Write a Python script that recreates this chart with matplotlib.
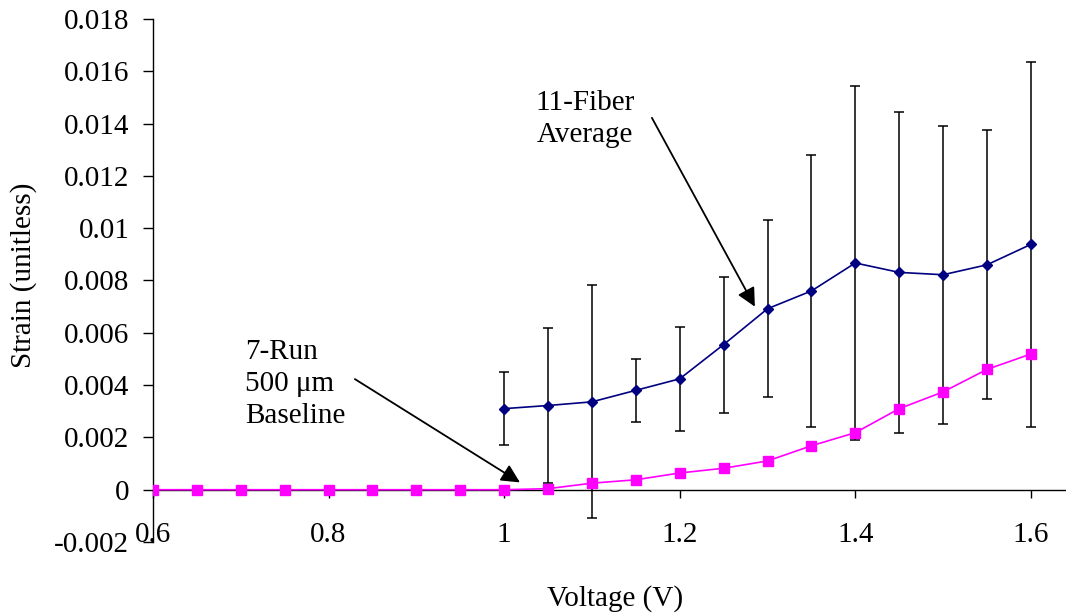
import numpy as np
import matplotlib
matplotlib.use('Agg')
import matplotlib.pyplot as plt

plt.rcParams['font.family'] = ['Liberation Serif', 'DejaVu Serif']
plt.rcParams['font.size'] = 21

# 11-fiber average with error bars
fiber_v = [1.0, 1.05, 1.1, 1.15, 1.2, 1.25, 1.3, 1.35, 1.4, 1.45, 1.5, 1.55, 1.6]
fiber_strain = [0.0031, 0.00322, 0.00336, 0.0038, 0.00424, 0.00555, 0.00692,
                0.0076, 0.00867, 0.00831, 0.00822, 0.0086, 0.00938]
fiber_err = [0.0014, 0.00295, 0.00445, 0.0012, 0.002, 0.0026, 0.00338,
             0.0052, 0.00675, 0.00615, 0.0057, 0.00515, 0.00698]

# 7-run 500 um baseline
base_v = [0.6, 0.65, 0.7, 0.75, 0.8, 0.85, 0.9, 0.95, 1.0, 1.05, 1.1,
          1.15, 1.2, 1.25, 1.3, 1.35, 1.4, 1.45, 1.5, 1.55, 1.6]
base_strain = [0, 0, 0, 0, 0, 0, 0, 0, 0, 0.00004, 0.00025,
               0.00038, 0.00064, 0.00082, 0.0011, 0.00168, 0.00218, 0.0031, 0.00374, 0.0046, 0.00519]

fig = plt.figure(figsize=(10.66, 6.16), dpi=100)
ax = fig.add_axes([0.1435, 0.1201, 0.8565, 0.8491])

ax.errorbar(fiber_v, fiber_strain, yerr=fiber_err, fmt='none', ecolor='black',
            elinewidth=1.1, capsize=3.8, capthick=1.1, zorder=2)
ax.plot(fiber_v, fiber_strain, color='#000080', marker='D', markersize=5.5,
        linewidth=1.2, zorder=3)
ax.plot(base_v, base_strain, color='#FF00FF', marker='s', markersize=7,
        linewidth=1.2, zorder=4)

ax.set_xlim(0.6, 1.64)
ax.set_ylim(-0.002, 0.018)
ax.set_xticks([0.6, 0.8, 1.0, 1.2, 1.4, 1.6])
ax.set_xticklabels(['0.6', '0.8', '1', '1.2', '1.4', '1.6'])
ax.set_yticks(np.arange(-0.002, 0.0181, 0.002))
ax.set_yticklabels(['-0.002', '0', '0.002', '0.004', '0.006', '0.008', '0.01',
                    '0.012', '0.014', '0.016', '0.018'])

ax.spines['top'].set_visible(False)
ax.spines['right'].set_visible(False)
ax.spines['bottom'].set_position(('data', 0))
for s in ['left', 'bottom']:
    ax.spines[s].set_linewidth(1.0)
ax.tick_params(axis='y', direction='out', length=7, width=1.0, pad=10)
ax.tick_params(axis='x', direction='out', length=6, width=1.0, pad=17)

ax.set_xlabel('Voltage (V)')
ax.xaxis.set_label_coords(0.506, -0.082)
ax.set_ylabel('Strain (unitless)')
ax.yaxis.set_label_coords(-0.127, 0.51)

arrow = dict(arrowstyle='-|>', color='black', lw=1.3, mutation_scale=28,
             shrinkA=0, shrinkB=0)
ax.annotate('', xy=(1.2856, 0.0070), xytext=(1.1683, 0.01422),
            arrowprops=arrow, zorder=5)
ax.annotate('', xy=(1.018, 0.00028), xytext=(0.830, 0.00423),
            arrowprops=arrow, zorder=5)
ax.text(1.092, 0.01418, '11-Fiber\nAverage', ha='center', va='center',
        linespacing=1.3)
ax.text(0.7048, 0.00405, '7-Run\n500 \u03bcm\nBaseline', ha='left', va='center',
        linespacing=1.3)

fig.savefig('out.png', dpi=100)
